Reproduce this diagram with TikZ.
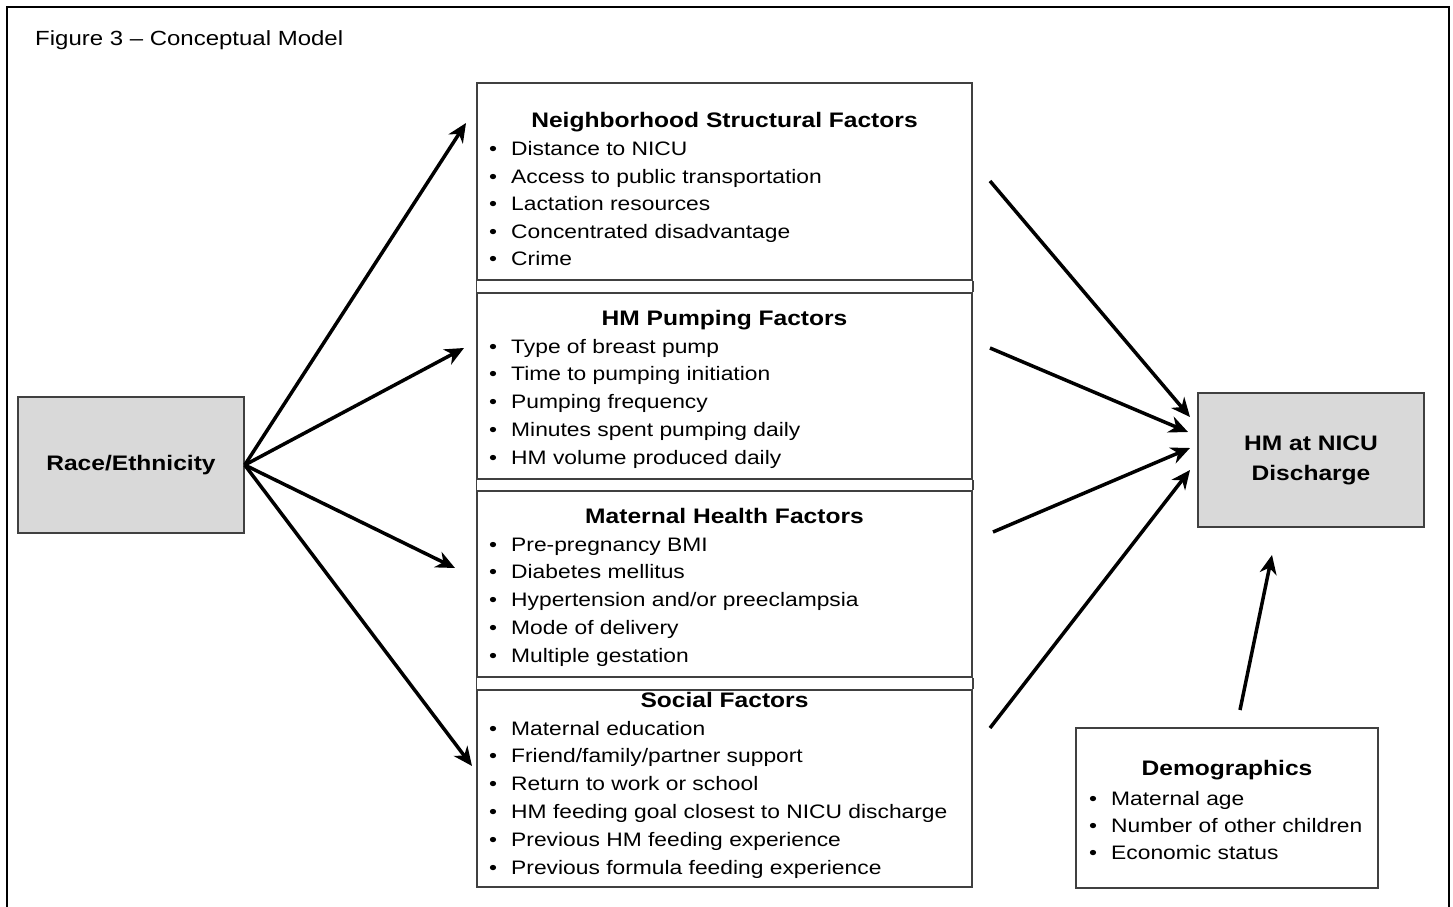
\documentclass[tikz,border=0pt]{standalone}
\usepackage{fontspec}
\setmainfont{Liberation Sans}[FakeStretch=1.17]
\usetikzlibrary{arrows.meta}

\newcommand{\itemfont}{\fontsize{19.5}{27.5}\selectfont}
\newcommand{\headfont}{\fontsize{21}{30}\selectfont\bfseries}
\newcommand{\titlefont}{\fontsize{20.5}{24}\selectfont}
\newcommand{\blt}{\makebox[22pt][l]{\textbullet}}

\tikzset{
  greybox/.style={draw=black!75, line width=1.5pt, fill=black!15, minimum width=226pt, font=\headfont, align=center},
  listbox/.style={draw=black!75, line width=1.5pt, minimum width=495pt},
  boxline/.style={draw=black!75, line width=1.5pt},
  item/.style={anchor=base west, inner sep=0pt, font=\itemfont},
  head/.style={anchor=base, inner sep=0pt, font=\headfont},
  arr/.style={-{Stealth[length=19pt,width=17pt,inset=6pt]}, line width=3.5pt},
}

\begin{document}
\begin{tikzpicture}[x=1pt,y=-1pt]
\useasboundingbox (0,0) rectangle (1453,907);
\draw [line width=2pt] (7,907) -- (7,7) -- (1449,7) -- (1449,907);
\node [anchor=base west, inner sep=0pt, font=\titlefont] (title) at (35,46) {Figure 3 -- Conceptual Model};

% outcome and exposure
\node [greybox, minimum height=136pt] (race) at (131,465) {Race/Ethnicity};
\node [greybox, minimum height=134pt] (hm) at (1311,460) {HM at NICU\\Discharge};

% factor boxes
\node [listbox, minimum height=197pt] (nbhd) at (724.5,181.5) {};
\node [listbox, minimum height=186pt] (pump) at (724.5,386) {};
\node [listbox, minimum height=186pt] (mat) at (724.5,584) {};
\node [listbox, minimum height=197pt] (soc) at (724.5,788.5) {};
\draw [boxline] (nbhd.south west) -- (pump.north west) (nbhd.south east) -- (pump.north east);
\draw [boxline] (pump.south west) -- (mat.north west) (pump.south east) -- (mat.north east);
\draw [boxline] (mat.south west) -- (soc.north west) (mat.south east) -- (soc.north east);

\node [head] (nbhdhead) at (724.5,127) {Neighborhood Structural Factors};
\foreach \txt [count=\i] in {Distance to NICU, Access to public transportation, Lactation resources, Concentrated disadvantage, Crime}
  \node [item] (nb\i) at (489,155.5+27.5*\i-27.5) {\blt\txt};

\node [head] (pumphead) at (724.5,325.5) {HM Pumping Factors};
\foreach \txt [count=\i] in {Type of breast pump, Time to pumping initiation, Pumping frequency, Minutes spent pumping daily, HM volume produced daily}
  \node [item] (hp\i) at (489,353+27.75*\i-27.75) {\blt\txt};

\node [head] (mathead) at (724.5,523.5) {Maternal Health Factors};
\foreach \txt [count=\i] in {Pre-pregnancy BMI, Diabetes mellitus, Hypertension and/or preeclampsia, Mode of delivery, Multiple gestation}
  \node [item] (mh\i) at (489,551+27.75*\i-27.75) {\blt\txt};

\node [head] (sochead) at (724.5,707.5) {Social Factors};
\foreach \txt [count=\i] in {Maternal education, Friend/family/partner support, Return to work or school, HM feeding goal closest to NICU discharge, Previous HM feeding experience, Previous formula feeding experience}
  \node [item] (sf\i) at (489,735+27.8*\i-27.8) {\blt\txt};

% demographics
\node [listbox, minimum width=302pt, minimum height=160pt] (demo) at (1227,808) {};
\node [head] (demohead) at (1227,775.5) {Demographics};
\foreach \txt [count=\i] in {Maternal age, Number of other children, Economic status}
  \node [item] (dm\i) at (1089,805+27*\i-27) {\blt\txt};

% arrow ends
\coordinate (r1) at (466,123);
\coordinate (r2) at (464,348);
\coordinate (r3) at (455,568);
\coordinate (r4) at (472,766);
\coordinate (f1) at (990,181);
\coordinate (f2) at (990,348);
\coordinate (f3) at (993,532);
\coordinate (f4) at (990,728);
\coordinate (h1) at (1190,417);
\coordinate (h2) at (1188,432);
\coordinate (h3) at (1190,448);
\coordinate (h4) at (1190,470);
\coordinate (d1) at (1240,710);
\coordinate (d2) at (1272,555);

\foreach \e in {r1,r2,r3,r4}
  \draw [arr] (race.east) -- (\e);
\foreach \s/\e in {f1/h1,f2/h2,f3/h3,f4/h4}
  \draw [arr] (\s) -- (\e);
\draw [arr] (d1) -- (d2);
\end{tikzpicture}
\end{document}
